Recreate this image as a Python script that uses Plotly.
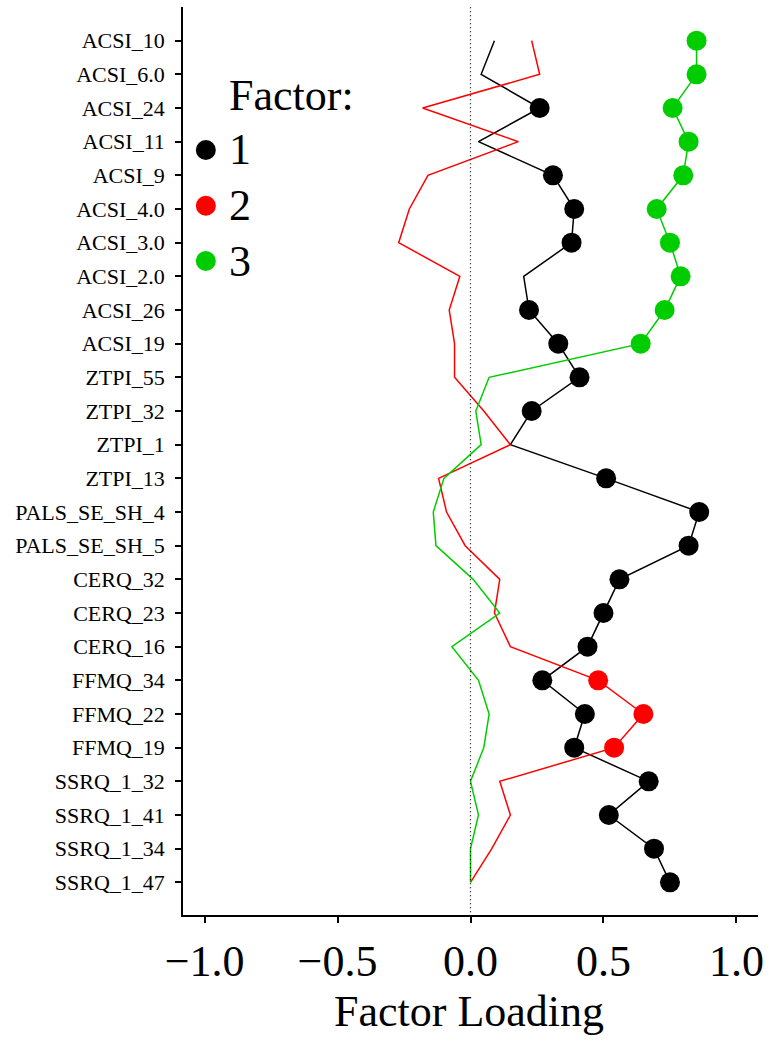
import plotly.graph_objects as go

# Questionnaire items, top to bottom
items = ["ACSI_10", "ACSI_6.0", "ACSI_24", "ACSI_11", "ACSI_9", "ACSI_4.0",
         "ACSI_3.0", "ACSI_2.0", "ACSI_26", "ACSI_19", "ZTPI_55", "ZTPI_32",
         "ZTPI_1", "ZTPI_13", "PALS_SE_SH_4", "PALS_SE_SH_5", "CERQ_32",
         "CERQ_23", "CERQ_16", "FFMQ_34", "FFMQ_22", "FFMQ_19", "SSRQ_1_32",
         "SSRQ_1_41", "SSRQ_1_34", "SSRQ_1_47"]

# Loadings on each factor
factor1 = [0.09, 0.04, 0.26, 0.03, 0.31, 0.39, 0.38, 0.20, 0.22, 0.33,
           0.41, 0.23, 0.15, 0.51, 0.86, 0.82, 0.56, 0.50, 0.44, 0.27,
           0.43, 0.39, 0.67, 0.52, 0.69, 0.75]
factor2 = [0.23, 0.26, -0.18, 0.18, -0.16, -0.23, -0.27, -0.04, -0.08, -0.06,
           -0.06, 0.05, 0.15, -0.12, -0.09, -0.02, 0.11, 0.09, 0.15, 0.48,
           0.65, 0.54, 0.11, 0.15, 0.08, 0.00]
factor3 = [0.85, 0.85, 0.76, 0.82, 0.80, 0.70, 0.75, 0.79, 0.73, 0.64,
           0.07, 0.02, 0.04, -0.10, -0.14, -0.13, 0.01, 0.11, -0.07, 0.03,
           0.07, 0.05, 0.00, 0.03, 0.00, 0.00]

# Items assigned to each factor (drawn with a point)
assigned1 = [0, 0, 1, 0, 1, 1, 1, 0, 1, 1, 1, 1, 0, 1, 1, 1, 1, 1, 1, 1, 1, 1, 1, 1, 1, 1]
assigned2 = [0] * 19 + [1, 1, 1] + [0] * 4
assigned3 = [1] * 10 + [0] * 16

factor_names = ["1", "2", "3"]
colors = ["#000000", "#FF0000", "#00CD00"]

SERIF = "Liberation Serif"

fig = go.Figure()

for vals, flags, col in zip([factor1, factor2, factor3],
                            [assigned1, assigned2, assigned3], colors):
    fig.add_trace(go.Scatter(
        x=vals, y=items, mode="lines",
        line=dict(color=col, width=1.5),
        showlegend=False, hoverinfo="skip"))
    fig.add_trace(go.Scatter(
        x=[v if f else None for v, f in zip(vals, flags)], y=items,
        mode="markers",
        marker=dict(color=col, size=20, line=dict(width=0)),
        showlegend=False))

# Key drawn in pixel-like coordinates on an overlay axis pair
PLOT_L, PLOT_R, PLOT_T, PLOT_B = 183, 762, 7, 915
key_y = [150, 205.7, 261]
fig.add_trace(go.Scatter(
    x=[206] * 3, y=key_y, xaxis="x2", yaxis="y2", mode="markers",
    marker=dict(color=colors, size=20, line=dict(width=0)),
    showlegend=False, hoverinfo="skip", cliponaxis=False))


def py(p):
    return (PLOT_B - p) / (PLOT_B - PLOT_T)


def px(p):
    return (p - PLOT_L) / (PLOT_R - PLOT_L)


annotations = [
    dict(text="Factor:", x=px(227), y=py(95.9), xref="paper", yref="paper",
         xanchor="left", yanchor="middle", showarrow=False,
         font=dict(family=SERIF, size=44, color="black")),
    dict(text="Factor Loading", x=px(471), y=py(1011.8), xref="paper",
         yref="paper", xanchor="center", yanchor="middle", showarrow=False,
         font=dict(family=SERIF, size=44, color="black")),
]
for name, yk in zip(factor_names, key_y):
    annotations.append(dict(
        text=name, x=px(227), y=py(yk), xref="paper", yref="paper",
        xanchor="left", yanchor="middle", showarrow=False,
        font=dict(family=SERIF, size=44, color="black")))

fig.update_layout(
    width=771, height=1043,
    margin=dict(l=PLOT_L, r=771 - PLOT_R, t=PLOT_T, b=1043 - PLOT_B),
    paper_bgcolor="white", plot_bgcolor="white",
    showlegend=False,
    font=dict(family=SERIF, color="black"),
    xaxis=dict(
        range=[-1.081, 1.081], tickvals=[-1.0, -0.5, 0.0, 0.5, 1.0],
        ticktext=["\u22121.0", "\u22120.5", "0.0", "0.5", "1.0"],
        showgrid=False, zeroline=False, showline=True, linecolor="black",
        linewidth=1.5, ticks="outside", ticklen=6, tickwidth=1.5,
        tickcolor="black", tickfont=dict(family=SERIF, size=44, color="black"),
        ticklabelstandoff=0),
    yaxis=dict(
        type="category", categoryorder="array", categoryarray=items,
        range=[25.97, -1.0], showgrid=False, zeroline=False, showline=True,
        linecolor="black", linewidth=1.5, ticks="outside", ticklen=6,
        tickwidth=1.5, tickcolor="black",
        tickfont=dict(family=SERIF, size=22, color="black"),
        ticklabelstandoff=6),
    xaxis2=dict(overlaying="x", range=[PLOT_L, PLOT_R], visible=False,
                fixedrange=True),
    yaxis2=dict(overlaying="y", range=[PLOT_B, PLOT_T], visible=False,
                fixedrange=True),
    shapes=[dict(type="line", xref="x", yref="paper", x0=0, x1=0,
                 y0=0.003, y1=1, line=dict(color="black", width=1.2,
                                            dash="1px,3px"))],
    annotations=annotations,
)

fig.write_html("out.html")
